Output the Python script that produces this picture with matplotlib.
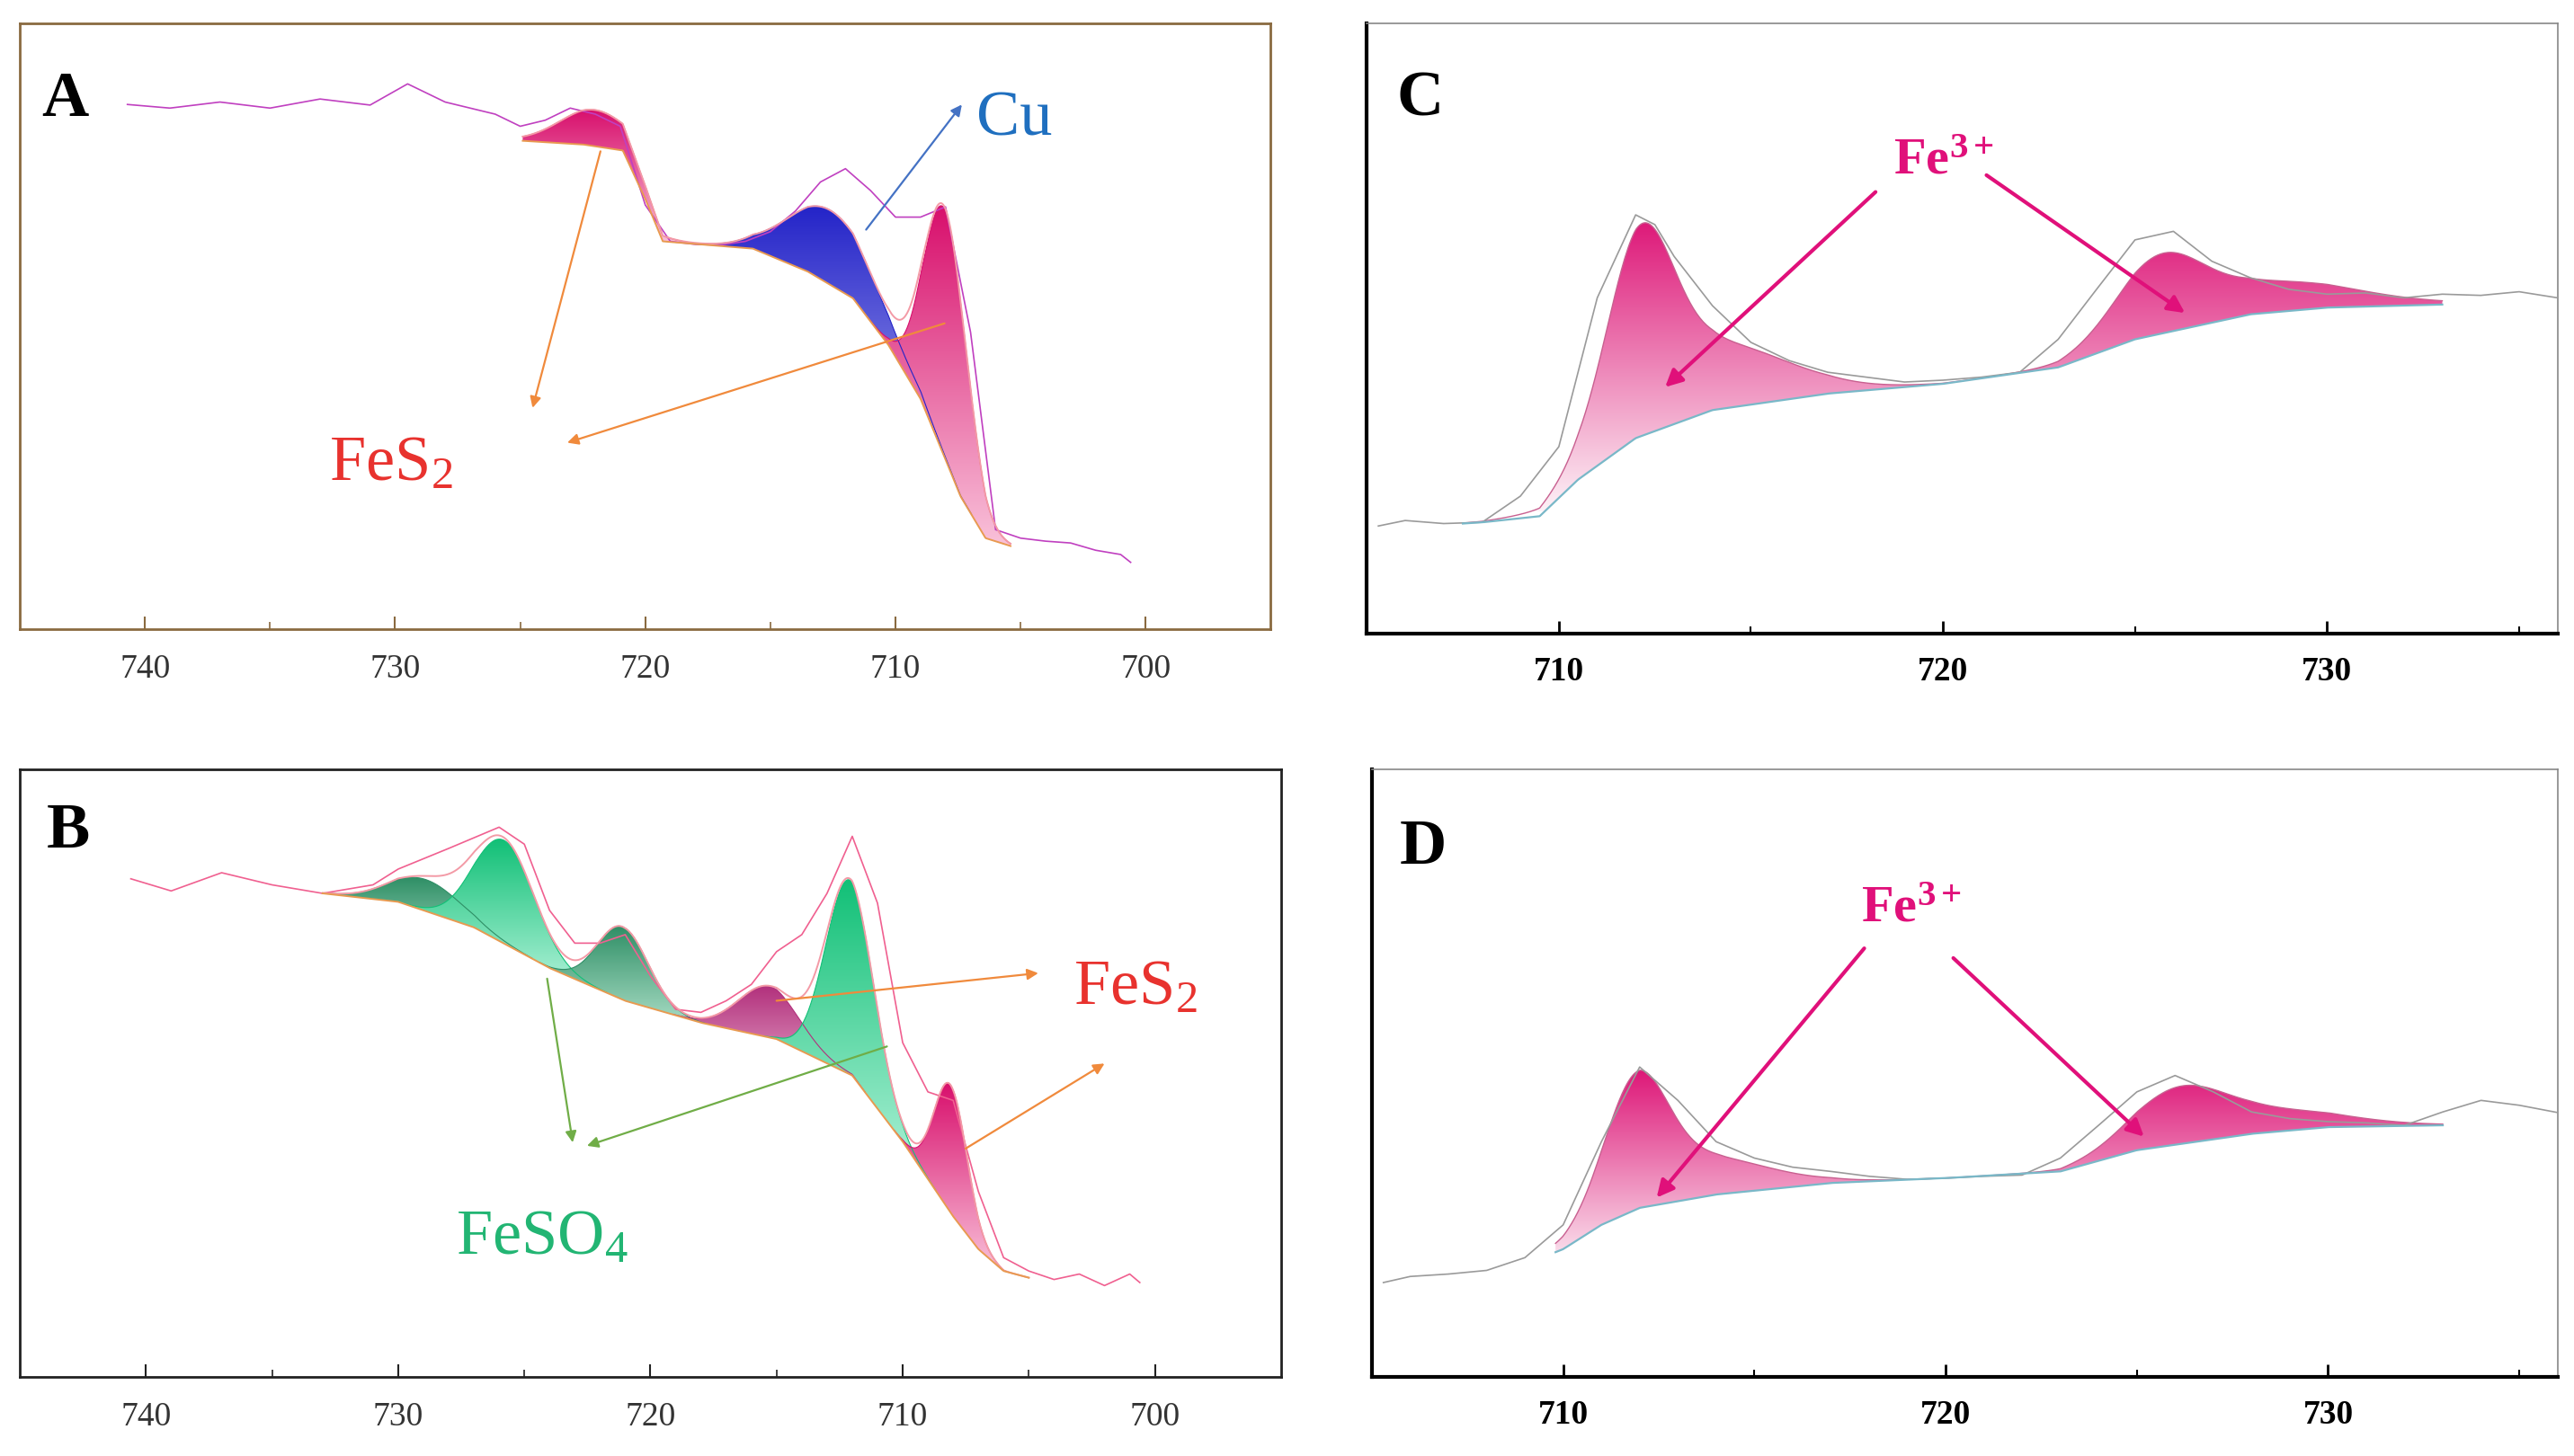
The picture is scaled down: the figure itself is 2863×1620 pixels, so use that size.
import numpy as np
import matplotlib
matplotlib.use("Agg")
import matplotlib.pyplot as plt
from matplotlib.colors import LinearSegmentedColormap

SERIF = "Liberation Serif"
plt.rcParams['mathtext.fontset'] = 'custom'
plt.rcParams['mathtext.rm'] = SERIF
plt.rcParams['mathtext.it'] = SERIF + ':italic'
plt.rcParams['mathtext.bf'] = SERIF + ':bold'

# ---------------- data ----------------
# Panel A
a_raw_x = [740.7,739,737,735,733,731,729.5,728,726,725,724,723,722,721,720,719,718,717,716,715,714,713,712,711,710,709,708,707,706,705,704,703,702,701,700.6]
a_raw_y = [86.6,86,87,86,87.5,86.5,90,87,85,83,84,86,85,83,70,64,63.5,63.4,64,65.6,69,73.8,76,72.4,68,68,69.7,49,16.4,15,14.5,14.2,13,12.3,11]
a_bg_x = [724.9,722.5,720.9,720,719.3,717.5,715.7,713.5,711.7,710.3,709,708,707.4,706.4,705.4]
a_bg_y = [80.6,80,79,71,64,63.4,62.8,59,54.6,47,38,28,21.9,15,13.7]
a_peaks = [(722.0,6,1.4,'pink'),(712.6,12.3,1.7,'blue'),(708.0,41,0.85,'pink')]

# Panel B
b_raw_x = [740.6,739,737,735,733,731,730,728,726,725,724,723,722,721,720,719,718,717,716,715,714,713,712,711,710,709,708,707,706,705,704,703,702,701,700.6]
b_raw_y = [82,80,83,81,79.6,81,83.6,87,90.5,87.7,76.8,71.4,71.4,72.8,66,60.5,60,61.9,64.6,70,72.8,79.6,89,78,55,46.9,45.5,30.5,19.6,17.4,16,16.9,15,16.9,15.5]
b_bg_x = [733,730,727,724,721,718,715,712,710,708,707,706,705]
b_bg_y = [79.6,78.2,74,67.3,61.9,58.3,55.6,49.6,38.7,26.4,21,17.4,16.3]
b_peaks = [(728.9,5.2,1.4,'dgreen'),(725.8,17,1.2,'green'),(721.1,12,1.0,'dgreen'),
           (715.3,8.4,1.2,'purple'),(712.1,32,0.95,'green'),(708.1,21,0.65,'pink')]

# Panel C
c_raw_x = [705.3,706,707,708,709,710,711,712,712.5,713,714,715,716,717,718,719,720,721,722,723,724,725,726,727,728,729,730,731,732,733,734,735,736]
c_raw_y = [17.6,18.5,18,18.2,22.5,30.6,55,68.6,67,61.8,53.7,47.7,44.7,42.8,42,41.2,41.5,42,42.8,48.2,56.4,64.5,65.9,61,58.3,56.4,55.6,55.8,55,55.6,55.4,56,55]
c_bg_x = [707.5,708,709.5,710.5,712,714,717,720,723,725,728,730,733]
c_bg_y = [18,18.2,19.2,25.2,32,36.6,39.3,40.9,43.6,48.2,52.3,53.4,53.9]
c_peaks = [(712.1,27,0.85),(713.8,11,2.0),(725.6,10.5,1.1),(728.3,5,2.3)]

# Panel D
d_raw_x = [705.3,706,707,708,709,710,711,712,713,714,715,716,717,718,719,720,721,722,723,724,725,726,727,728,729,730,731,732,733,734,735,736]
d_raw_y = [15.5,16.5,16.9,17.5,19.6,25,38.7,51,45.5,38.7,36,34.5,33.8,33,32.5,32.7,33,33.2,36,41.4,46.9,49.6,46.9,43.6,42.5,42,41.8,41.4,43.6,45.5,44.7,43.5]
d_bg_x = [709.8,710,711,712,714,717,720,723,725,728,730,733]
d_bg_y = [20.5,21,25,27.8,30,31.9,32.7,33.8,37.3,40,41.1,41.4]
d_peaks = [(711.9,18,0.8),(713.4,6.5,1.8),(726.0,7.5,1.2),(728.2,3.5,2.0)]

# ---------------- helpers ----------------
CMAPS = {
    'pink': ('#d80f6c', '#f9c2da'),
    'blue': ('#2424c8', '#b8b8f4'),
    'dgreen': ('#2f8f66', '#a8dcc4'),
    'green': ('#12c077', '#b6f4dc'),
    'purple': ('#b2307c', '#eab0d0'),
}

def comp(x, c, h, s):
    return h*np.exp(-0.5*((x-c)/s)**2)

def grad_fill(ax, x, lo, hi, top, bottom, ymin=None, ymax=None):
    poly = ax.fill_between(x, lo, hi, facecolor='none', edgecolor='none')
    cmap = LinearSegmentedColormap.from_list('g', [bottom, top])
    y0 = lo.min() if ymin is None else ymin
    y1 = hi.max() if ymax is None else ymax
    g = np.linspace(0, 1, 256).reshape(-1, 1)
    im = ax.imshow(g, extent=[x.min(), x.max(), y0, y1], origin='lower', aspect='auto', cmap=cmap, zorder=2)
    im.set_clip_path(poly.get_paths()[0], transform=ax.transData)
    return im

def arrow(fig, p0, p1, color, lw=1.6, ms=18):
    W, H = 1563.0, 880.0
    fig.patches.append(matplotlib.patches.FancyArrowPatch(
        (p0[0]/W, 1-p0[1]/H), (p1[0]/W, 1-p1[1]/H), transform=fig.transFigure,
        arrowstyle='-|>', mutation_scale=ms, color=color, lw=lw, zorder=10))

def ftext(fig, x, y, s, **kw):
    fig.text(x/1563.0, 1-y/880.0, s, **kw)

fig = plt.figure(figsize=(28.63, 16.2), dpi=100)

def setup_ab(ax, frame):
    ax.set_xlim(745, 695)
    ax.set_ylim(0, 100)
    ax.set_yticks([])
    ax.set_xticks([740, 730, 720, 710, 700])
    ax.set_xticks([735, 725, 715, 705], minor=True)
    ax.tick_params(axis='x', direction='in', length=10, width=1.5, labelsize=27, pad=20, colors=frame, labelcolor='#333333')
    ax.tick_params(axis='x', which='minor', direction='in', length=6, width=1.2, colors=frame)
    for sp in ax.spines.values():
        sp.set_color(frame); sp.set_linewidth(2)
    for lab in ax.get_xticklabels():
        lab.set_fontfamily(SERIF)

def setup_cd(ax):
    ax.set_xlim(705, 736)
    ax.set_ylim(0, 100)
    ax.set_yticks([])
    ax.set_xticks([710, 720, 730])
    ax.set_xticks([715, 725, 735], minor=True)
    ax.tick_params(axis='x', direction='in', length=10, width=2, labelsize=27, pad=18)
    ax.tick_params(axis='x', which='minor', direction='in', length=6, width=1.5)
    for lab in ax.get_xticklabels():
        lab.set_fontfamily(SERIF); lab.set_fontweight('bold')
    ax.spines['left'].set_linewidth(3); ax.spines['bottom'].set_linewidth(3)
    ax.spines['top'].set_color('#888888'); ax.spines['right'].set_color('#888888')
    ax.spines['top'].set_linewidth(1.2); ax.spines['right'].set_linewidth(1.2)

def draw_ab(ax, rx, ry, bx, by, peaks, rawcol):
    x = np.linspace(max(bx), min(bx), 600)
    bg = np.interp(x, bx[::-1], by[::-1])
    total = bg.copy()
    for c, h, s, col in peaks:
        y = comp(x, c, h, s)
        m = y > 0.05
        grad_fill(ax, x[m], bg[m], bg[m]+y[m], CMAPS[col][0], CMAPS[col][1])
        ax.plot(x[m], bg[m]+y[m], color=CMAPS[col][0], lw=0.8, zorder=3)
        total += y
    ax.plot(rx, ry, color=rawcol, lw=1.2, zorder=4)
    ax.plot(x, total, color='#f39aa6', lw=1.4, zorder=4)
    ax.plot(x, bg, color='#e89a50', lw=1.4, zorder=4)

def draw_cd(ax, rx, ry, bx, by, peaks, lo_y, hi_y):
    x = np.linspace(min(bx), max(bx), 600)
    bg = np.interp(x, bx, by)
    tot = sum(comp(x, c, h, s) for c, h, s in peaks)
    grad_fill(ax, x, bg, bg+tot, '#dc0d72', '#fdf2f7', lo_y, hi_y)
    ax.plot(x, bg+tot, color='#c86090', lw=1.0, zorder=3)
    ax.plot(rx, ry, color='#9a9a9a', lw=1.2, zorder=4)
    ax.plot(x, bg, color='#79b8c8', lw=1.6, zorder=4)

axA = fig.add_axes([0.0077, 0.568, 0.486, 0.416])
setup_ab(axA, '#8a6a40')
draw_ab(axA, a_raw_x, a_raw_y, a_bg_x, a_bg_y, a_peaks, '#c040c0')
axB = fig.add_axes([0.0077, 0.0545, 0.490, 0.417])
setup_ab(axB, '#222222')
draw_ab(axB, b_raw_x, b_raw_y, b_bg_x, b_bg_y, b_peaks, '#f06090')
axC = fig.add_axes([0.531, 0.565, 0.4626, 0.419])
setup_cd(axC)
draw_cd(axC, c_raw_x, c_raw_y, c_bg_x, c_bg_y, c_peaks, 20, 70)
axD = fig.add_axes([0.533, 0.0545, 0.4606, 0.417])
setup_cd(axD)
draw_cd(axD, d_raw_x, d_raw_y, d_bg_x, d_bg_y, d_peaks, 17, 52)

for x, y, s in [(25, 70, 'A'), (28, 512, 'B'), (848, 70, 'C'), (850, 522, 'D')]:
    ftext(fig, x, y, s, fontsize=52, fontweight='bold', fontfamily=SERIF)

arrow(fig, (525, 140), (585, 62), '#4472c4')
ftext(fig, 593, 82, 'Cu', fontsize=52, color='#1f6fbf', fontfamily=SERIF)
arrow(fig, (365, 90), (323, 248), '#f08a3c')
arrow(fig, (575, 195), (343, 268), '#f08a3c')
ftext(fig, 200, 290, 'FeS$_2$', fontsize=52, color='#e8322e', fontfamily=SERIF)

arrow(fig, (332, 590), (348, 692), '#70ad47')
arrow(fig, (540, 632), (355, 693), '#70ad47')
arrow(fig, (470, 605), (632, 588), '#f08a3c')
arrow(fig, (585, 695), (672, 642), '#f08a3c')
ftext(fig, 652, 607, 'FeS$_2$', fontsize=52, color='#e8322e', fontfamily=SERIF)
ftext(fig, 277, 758, 'FeSO$_4$', fontsize=52, color='#22b573', fontfamily=SERIF)

mag = '#e0107a'
arrow(fig, (1140, 115), (1010, 235), mag, lw=3, ms=28)
arrow(fig, (1205, 105), (1328, 190), mag, lw=3, ms=28)
ftext(fig, 1150, 105, r'Fe$^{\mathbf{3+}}$', fontsize=42, fontweight='bold', color=mag, fontfamily=SERIF)
arrow(fig, (1133, 572), (1005, 725), mag, lw=3, ms=28)
arrow(fig, (1185, 578), (1303, 688), mag, lw=3, ms=28)
ftext(fig, 1130, 557, r'Fe$^{\mathbf{3+}}$', fontsize=42, fontweight='bold', color=mag, fontfamily=SERIF)

fig.savefig('out.png', dpi=100)
